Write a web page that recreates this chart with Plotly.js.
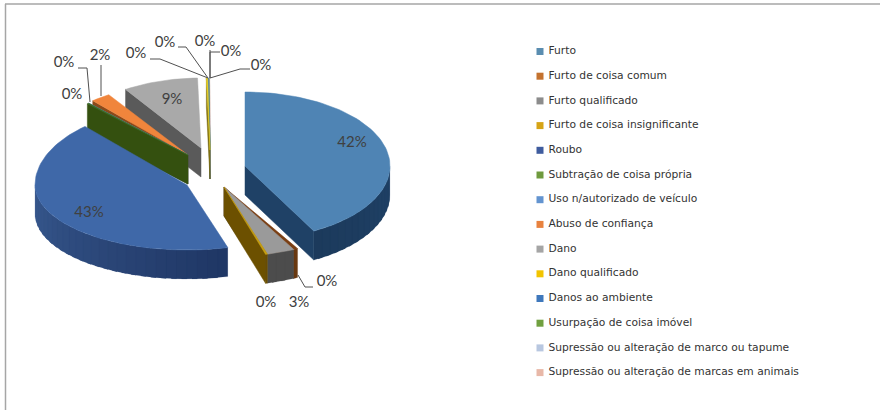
<!DOCTYPE html>
<html><head><meta charset="utf-8">
<script src="https://cdn.plot.ly/plotly-3.0.1.min.js"></script>
<style>html,body{margin:0;padding:0;background:#fff}#c{width:880px;height:410px}</style>
</head><body><div id="c"></div>
<script>
// ---- data ----
const categories = ["Furto","Furto de coisa comum","Furto qualificado","Furto de coisa insignificante","Roubo","Subtração de coisa própria","Uso n/autorizado de veículo","Abuso de confiança","Dano","Dano qualificado","Danos ao ambiente","Usurpação de coisa imóvel","Supressão ou alteração de marco ou tapume","Supressão ou alteração de marcas em animais"];
const values = [42.1,0.45,2.9,0.2,42.6,0.2,0.1,2.2,8.8,0.15,0.1,0.05,0.05,0.05];
// ---- styles ----
const topColors  = ["#4f84b4","#7a3f14","#9a9a9a","#c9a010","#3f68a8","#3f6a20","#5f9ccc","#f0853c","#a9a9a9","#e8d020","#4a80c0","#78a040","#b8c7e0","#e8b8a8"];
const wallColors = ["#1f4166","#6a3a12","#4c4c4c","#6c5000","#1f3664","#34500f","#2f5f8a","#8a4a1a","#5a5a5a","#807010","#304f80","#4a6a20","#808898","#907870"];
const wallColorsFar = ["#1c3a5c","#6a3a12","#4c4c4c","#6c5000","#38598f","#34500f","#2f5f8a","#8a4a1a","#5a5a5a","#807010","#304f80","#4a6a20","#808898","#907870"];
const swatchColors = ["#5a8db0","#c4722f","#8c8c8c","#d6a416","#3f5c9e","#6f9a3e","#6394d0","#e8823f","#a5a5a5","#f2c400","#3f78bc","#70a040","#b8c7e0","#e8b8a8"];
// apex of each exploded slice on the page-sized axes, and ellipse radii
const apexX = [245,224,224,224,187,188,188,188,201,210,210,210,210,210];
const apexY = [166,187,187,187,185,155,155,155,148,150,150,150,150,150];
const radX  = [145,155,155,155,152,150,150,145,138,145,145,145,145,145];
const radYFront = [74,70,70,70,65,69,69,72,70,72,72,72,72,72];
const radYBack  = [74,70,70,70,79,69,69,72,70,72,72,72,72,72];
const wallH = 29;
const paintOrder = [8,7,6,5,13,12,11,10,9,4,0,1,2,3];
const labelX = [352,327,299,266,89,72,64,100,172,136,165,205,231,261];
const labelY = [143,282,303,303,213,95,63,56,100,54,43,42,52,66];
const leaders = [
  {x:[313,305,298],y:[287,287,275]},
  {x:[78,87,90],y:[68,68,102]},
  {x:[101,101],y:[65,96]},
  {x:[150,160,208],y:[59,59,78]},
  {x:[178,186,208],y:[47,47,78]},
  {x:[210,210],y:[50,78]},
  {x:[220,210,210],y:[52,52,78]},
  {x:[250,240,210],y:[69,69,78]}
];
const legendX = 540, legendTextX = 548.5, legendTop = 51.5, legendStep = 24.7;

const total = values.reduce((a,b)=>a+b,0);
const rad = d=>d*Math.PI/180;
let start = [], acc = 0;
values.forEach(v=>{start.push(acc); acc += v/total*360;});
const traces = [];
function poly(xs,ys,color,w){
  traces.push({type:'scatter',mode:'lines',x:xs.concat(xs[0]),y:ys.concat(ys[0]),fill:'toself',fillcolor:color,
    line:{color:color,width:w||0.5},hoverinfo:'skip',showlegend:false});
}
function pt(i,t){
  const c=Math.cos(rad(t));
  return [apexX[i]+radX[i]*Math.sin(rad(t)), apexY[i]-(c>0?radYBack[i]:radYFront[i])*c];
}
function mix(a,b,f){
  const h=(s,o)=>parseInt(s.substr(o,2),16);
  const p=[1,3,5].map(o=>Math.round(h(a,o)+(h(b,o)-h(a,o))*f));
  return 'rgb('+p.join(',')+')';
}
paintOrder.forEach(i=>{
  const a=start[i], b=a+values[i]/total*360;
  // rim, in shaded bands (overlapping so no seams show)
  const lo=Math.max(a,90), hi=Math.min(b,270);
  if(hi>lo){
    const n=Math.max(2,Math.ceil((hi-lo)/4));
    for(let k=0;k<n;k++){
      const p=pt(i,lo+(hi-lo)*k/n), q=pt(i,lo+(hi-lo)*Math.min(k+1.5,n)/n);
      poly([p[0],q[0],q[0],p[0]],[p[1],q[1],q[1]+wallH,p[1]+wallH],mix(wallColors[i],wallColorsFar[i],(k+0.5)/n),0.1);
    }
  }
  // radial cut faces that look toward the viewer
  [[a,a>180],[b,b<180]].forEach(([t,vis])=>{
    if(!vis) return;
    const p=pt(i,t);
    poly([apexX[i],p[0],p[0],apexX[i]],[apexY[i],p[1],p[1]+wallH,apexY[i]+wallH],wallColors[i]);
  });
  // top face
  const xs=[apexX[i]],ys=[apexY[i]];
  const n=Math.max(2,Math.ceil((b-a)/2));
  for(let k=0;k<=n;k++){const p=pt(i,a+(b-a)*k/n);xs.push(p[0]);ys.push(p[1]);}
  poly(xs,ys,topColors[i]);
});
leaders.forEach(l=>traces.push({type:'scatter',mode:'lines',x:l.x,y:l.y,line:{color:'#505050',width:1},hoverinfo:'skip',showlegend:false}));
// percentage labels
traces.push({type:'scatter',mode:'text',x:labelX,y:labelY,text:values.map(v=>Math.round(v/total*100)+'%'),
  textposition:'middle center',textfont:{family:'Lato',size:15,color:'#404040'},hoverinfo:'skip',showlegend:false});
// legend
const rowY = categories.map((c,i)=>legendTop+legendStep*i);
traces.push({type:'scatter',mode:'markers',x:categories.map(()=>legendX),y:rowY,
  marker:{symbol:'square',size:7,color:swatchColors},hoverinfo:'skip',showlegend:false});
traces.push({type:'scatter',mode:'text',x:categories.map(()=>legendTextX),y:rowY,text:categories,
  textposition:'middle right',textfont:{family:'DejaVu Sans',size:10.7,color:'#333'},
  hoverinfo:'skip',showlegend:false,cliponaxis:false});
const layout={width:880,height:410,margin:{l:0,r:0,t:0,b:0},paper_bgcolor:'#fff',plot_bgcolor:'#fff',showlegend:false,
  xaxis:{range:[0,880],visible:false,fixedrange:true},yaxis:{range:[410,0],visible:false,fixedrange:true},
  shapes:[
    {type:'line',xref:'x',yref:'y',x0:5,x1:880,y0:4,y1:4,line:{color:'#a6a6a6',width:1.5}},
    {type:'line',xref:'x',yref:'y',x0:5.5,x1:5.5,y0:4,y1:410,line:{color:'#a6a6a6',width:1.5}}
  ]};
Plotly.newPlot('c',traces,layout,{staticPlot:true});
</script></body></html>
